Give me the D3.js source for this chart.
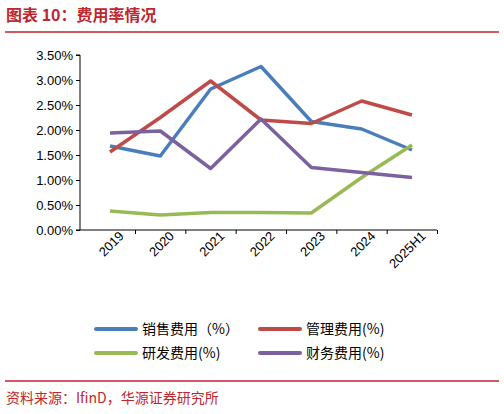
<!DOCTYPE html>
<html><head><meta charset="utf-8">
<script src="https://cdn.jsdelivr.net/npm/d3@7"></script>
<style>body{margin:0;background:#fff;font-family:"Liberation Sans","Noto Sans CJK SC",sans-serif}</style>
</head><body><svg id="c" width="504" height="414"></svg>
<script>
const years = ["2019", "2020", "2021", "2022", "2023", "2024", "2025H1"];
const sales = [1.68, 1.48, 2.82, 3.27, 2.17, 2.02, 1.60];
const admin = [1.56, 2.25, 2.98, 2.20, 2.13, 2.58, 2.30];
const rnd = [0.38, 0.30, 0.35, 0.35, 0.34, 1.05, 1.70];
const finance = [1.94, 1.98, 1.23, 2.22, 1.25, 1.15, 1.05];
const yTicks = [0, 0.5, 1, 1.5, 2, 2.5, 3, 3.5];

const series = [
  { name: "销售费用（%）", color: "#4a7ebb", v: sales },
  { name: "管理费用(%)", color: "#be4b48", v: admin },
  { name: "研发费用(%)", color: "#98b954", v: rnd },
  { name: "财务费用(%)", color: "#7d60a0", v: finance },
];

const svg = d3.select("#c");
const red = "#c0262d";

svg.append("text").attr("x", 6).attr("y", 21).attr("fill", red)
  .attr("font-size", 16).attr("font-weight", "bold")
  .attr("font-family", "Noto Sans CJK SC").text("图表 10：费用率情况");
svg.append("line").attr("x1", 5).attr("x2", 499).attr("y1", 32).attr("y2", 32)
  .attr("stroke", red).attr("stroke-width", 1.5);
svg.append("line").attr("x1", 5).attr("x2", 499).attr("y1", 381).attr("y2", 381)
  .attr("stroke", red).attr("stroke-width", 1.5);
svg.append("text").attr("x", 6).attr("y", 403).attr("fill", red)
  .attr("font-size", 14).attr("font-family", "Noto Sans CJK SC")
  .text("资料来源：IfinD，华源证券研究所");

const x = d3.scalePoint().domain(years).range([110, 412]).padding(0);
const y = d3.scaleLinear().domain([0, 3.5]).range([230, 55]);

const gy = svg.append("g").attr("transform", "translate(80,0)")
  .call(d3.axisLeft(y).tickValues(yTicks).tickFormat(d => d.toFixed(2) + "%").tickSize(4));
gy.selectAll("text").attr("font-size", 13).attr("fill", "#000").attr("font-family", "Liberation Sans");
gy.select(".domain").attr("d", "M-4,55H0V230H-4");

const gx = svg.append("g").attr("transform", "translate(0,230)")
  .call(d3.axisBottom(x).tickSize(4));
gx.select(".domain").attr("d", "M80,0H437");
gx.selectAll(".tick line").attr("transform", "translate(25,0)");
gx.selectAll("text").attr("font-size", 13).attr("fill", "#000").attr("font-family", "Liberation Sans")
  .attr("text-anchor", "end").attr("dx", "0.4em").attr("dy", "0.6em")
  .attr("transform", "rotate(-45)");

const line = d3.line().x((d, i) => x(years[i])).y(d => y(d));
series.forEach(s => {
  svg.append("path").attr("d", line(s.v)).attr("fill", "none")
    .attr("stroke", s.color).attr("stroke-width", 3.5).attr("stroke-linejoin", "round");
});

const lg = svg.append("g");
series.forEach((s, i) => {
  const lx = i % 2 ? 260 : 96, ly = i < 2 ? 329 : 353;
  lg.append("line").attr("x1", lx).attr("x2", lx + 40).attr("y1", ly).attr("y2", ly)
    .attr("stroke", s.color).attr("stroke-width", 4).attr("stroke-linecap", "round");
  lg.append("text").attr("x", lx + 46).attr("y", ly + 5).attr("font-size", 14)
    .attr("font-family", "Noto Sans CJK SC").text(s.name);
});
</script></body></html>
